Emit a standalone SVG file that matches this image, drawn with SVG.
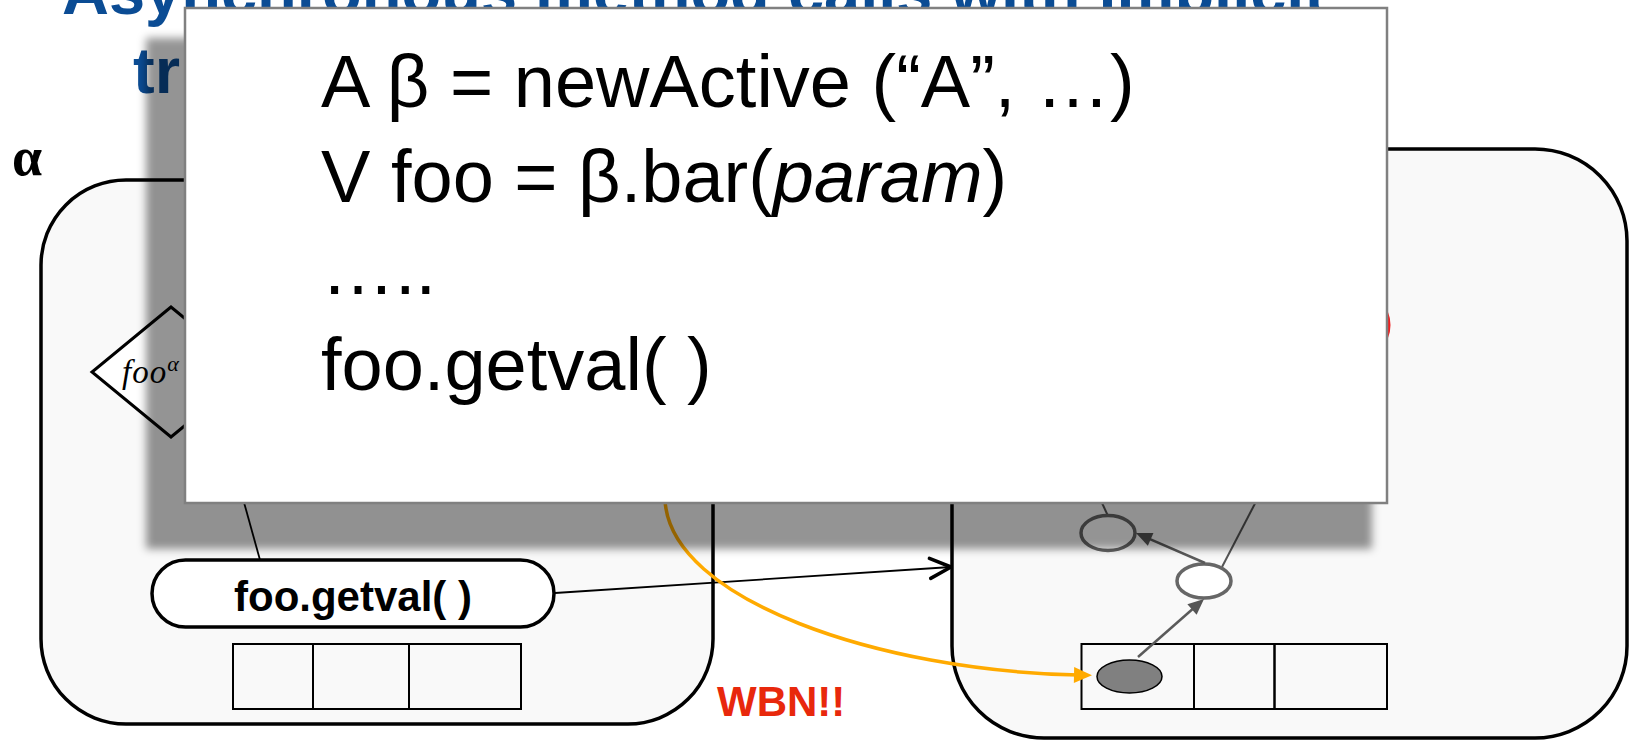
<svg xmlns="http://www.w3.org/2000/svg" width="1630" height="741" viewBox="0 0 1630 741">
  <style>
    .title { font-family: "Liberation Sans", Arial, sans-serif; font-weight: bold; font-size: 65px; fill: #0b4c94; }
    .frame { fill: #f9f9f9; stroke: #000; stroke-width: 3.5; }
    .cell { fill: none; stroke: #000; stroke-width: 2; }
    .pill { fill: #fff; stroke: #000; stroke-width: 3.5; }
    .pilltxt { font-family: "Liberation Sans", Arial, sans-serif; font-weight: bold; font-size: 42px; fill: #000; }
    .code { font-family: "Liberation Sans", Arial, sans-serif; font-size: 74px; fill: #000; }
    .req { fill: #fff; stroke: #666; stroke-width: 3.5; }
    .thin { stroke: #555; stroke-width: 2; fill: none; }
    .dep { stroke: #5a5a5a; stroke-width: 2.5; fill: none; }
  </style>
  <defs>
    <marker id="openHead" markerUnits="userSpaceOnUse" markerWidth="40" markerHeight="40" viewBox="-30 -20 40 40" refX="0" refY="0" orient="auto" overflow="visible">
      <path d="M-21,-10 L0,0 L-21,10" fill="none" stroke="#000" stroke-width="3.5" stroke-linecap="round" stroke-linejoin="round"/>
    </marker>
    <marker id="orangeHead" markerUnits="userSpaceOnUse" markerWidth="40" markerHeight="40" viewBox="-10 -20 40 40" refX="4" refY="0" orient="auto" overflow="visible">
      <path d="M0,-8 L18,0 L0,8 Z" fill="#ffaa00"/>
    </marker>
    <marker id="grayHead" markerUnits="userSpaceOnUse" markerWidth="40" markerHeight="40" viewBox="-10 -20 40 40" refX="2" refY="0" orient="auto" overflow="visible">
      <path d="M0,-7 L16,0 L0,7 Z" fill="#555"/>
    </marker>
    <filter id="soft" x="-5%" y="-5%" width="110%" height="110%">
      <feGaussianBlur stdDeviation="4"/>
    </filter>
  </defs>

  <rect x="0" y="0" width="1630" height="741" fill="#fff"/>

  <!-- slide heading (partly off the top edge) -->
  <g id="title">
    <text class="title" x="62" y="14">Asynchronous method calls with implicit</text>
    <text class="title" x="133" y="93">tr</text>
  </g>

  <!-- activity alpha -->
  <g id="label-alpha">
    <text x="12" y="175" font-family="'Liberation Serif', 'Times New Roman', serif" font-weight="bold" font-size="54">α</text>
  </g>
  <g id="activity-alpha">
    <rect class="frame" x="41" y="180" width="672" height="544" rx="85" ry="85"/>
    <polygon points="171,307 92,372 171,437 250,372" fill="#fff" stroke="#000" stroke-width="3"/>
    <text x="122" y="383" font-family="'Liberation Serif', 'Times New Roman', serif" font-style="italic" font-size="33" letter-spacing="1">foo<tspan dy="-12" font-size="22" letter-spacing="0">α</tspan></text>
    <rect class="pill" x="152" y="560" width="402" height="67" rx="33.5" ry="33.5"/>
    <text class="pilltxt" x="353" y="611" text-anchor="middle">foo.getval( )</text>
    <rect class="cell" x="233" y="644" width="80" height="65"/>
    <rect class="cell" x="313" y="644" width="96" height="65"/>
    <rect class="cell" x="409" y="644" width="112" height="65"/>
  </g>

  <!-- activity beta -->
  <g id="activity-beta">
    <rect class="frame" x="952" y="149" width="675" height="589" rx="92" ry="92"/>
    <ellipse cx="1357" cy="325" rx="32" ry="32" fill="none" stroke="#f02020" stroke-width="3"/>
    <rect class="cell" x="1081.5" y="644" width="112.5" height="65"/>
    <rect class="cell" x="1194" y="644" width="80.5" height="65"/>
    <rect class="cell" x="1274.5" y="644" width="112.5" height="65"/>
    <ellipse cx="1129.5" cy="676.5" rx="32.5" ry="16.5" fill="#808080" stroke="#000" stroke-width="1.5"/>
    <line class="thin" x1="1097" y1="492" x2="1108" y2="516"/>
    <line class="thin" x1="1261" y1="492" x2="1222" y2="567"/>
    <ellipse class="req" cx="1108" cy="533" rx="27" ry="17.5"/>
    <ellipse class="req" cx="1204" cy="581" rx="27" ry="17"/>
    <line class="dep" x1="1205" y1="563" x2="1148.8" y2="538.6" marker-end="url(#grayHead)"/>
    <line class="dep" x1="1138" y1="657" x2="1193.5" y2="608.2" marker-end="url(#grayHead)"/>
  </g>

  <!-- connectors -->
  <g id="connectors">
    <line x1="240" y1="488" x2="260" y2="560" stroke="#000" stroke-width="1.8"/>
    <line x1="555" y1="593" x2="951" y2="567" stroke="#000" stroke-width="1.8" marker-end="url(#openHead)"/>
    <path d="M665,500 C670,600 880,671 1078,675" fill="none" stroke="#ffaa00" stroke-width="3.5" marker-end="url(#orangeHead)"/>
  </g>

  <g id="note-wbn">
    <text x="717" y="716" font-family="'Liberation Sans', Arial, sans-serif" font-weight="bold" font-size="42" fill="#e8280c">WBN!!</text>
  </g>

  <!-- code call-out with drop shadow -->
  <g id="code-callout">
    <rect x="146" y="38" width="1226" height="511" fill="#000" fill-opacity="0.42" filter="url(#soft)"/>
    <rect x="185" y="8" width="1202" height="495" fill="#fff" stroke="#808080" stroke-width="2.5"/>
    <text class="code" x="321" y="107">A β = newActive (“A”, …)</text>
    <text class="code" x="321" y="202">V foo = β.bar(<tspan font-style="italic">param</tspan>)</text>
    <text class="code" x="321" y="294">…..</text>
    <text class="code" x="321" y="390">foo.getval( )</text>
  </g>
</svg>
